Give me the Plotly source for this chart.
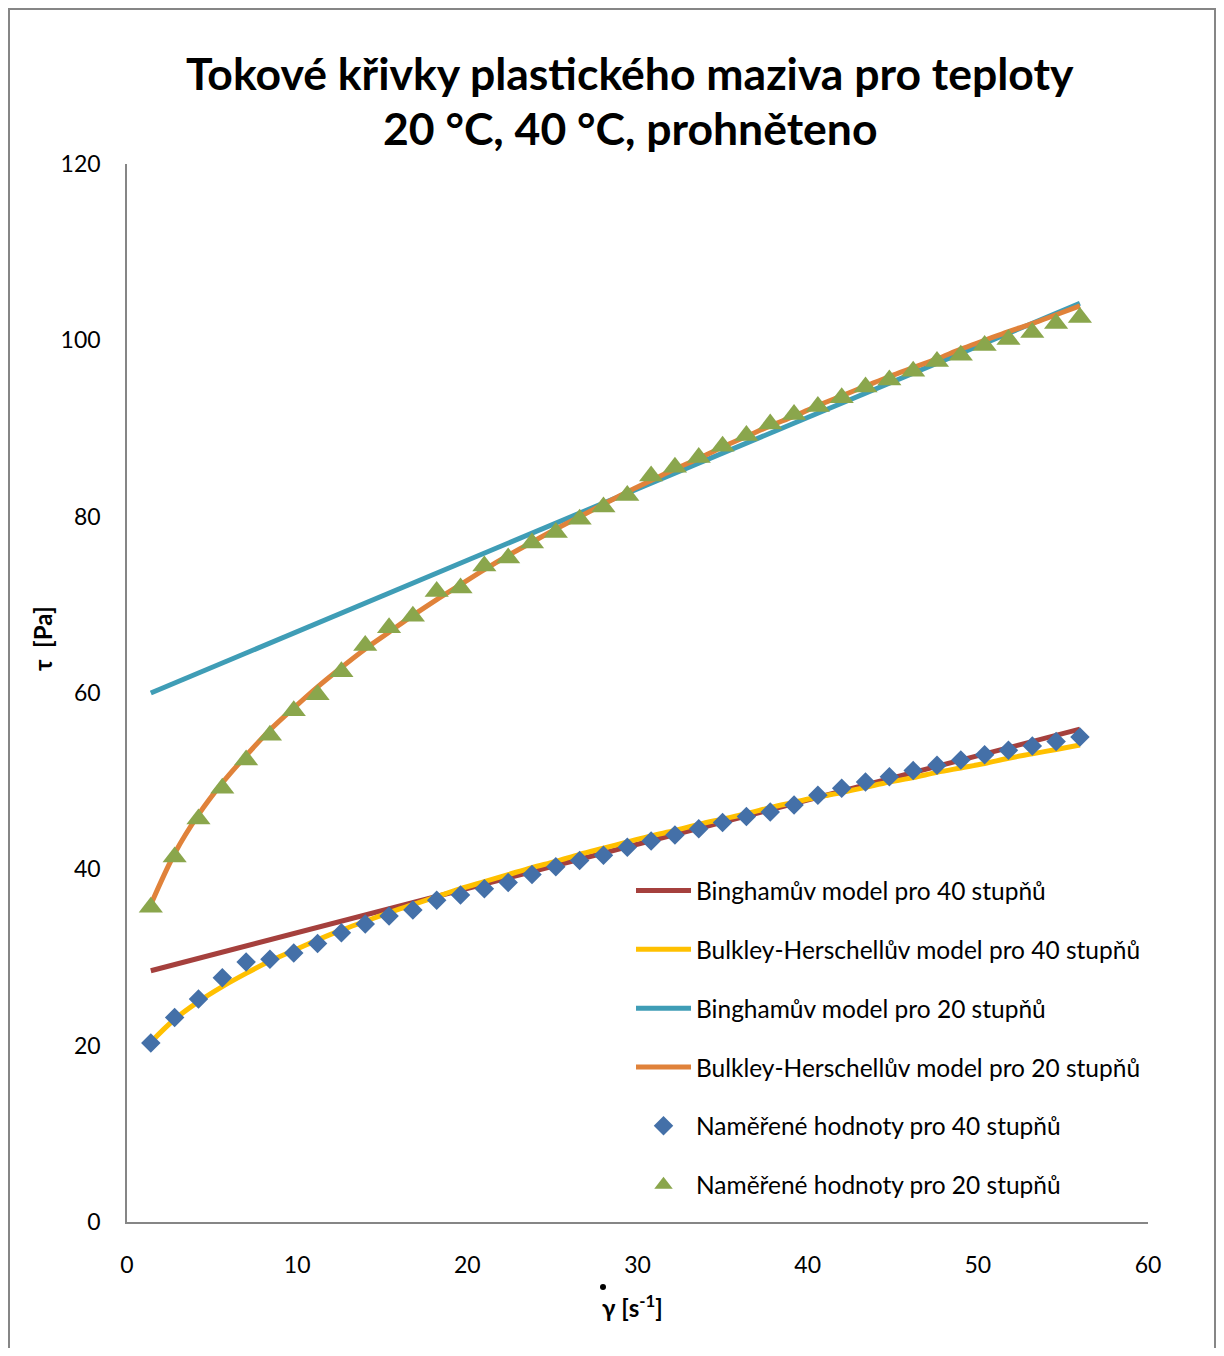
import plotly.graph_objects as go

# shear rate [1/s]
shear_rate = [1.4, 2.8, 4.2, 5.6, 7.0, 8.4, 9.8, 11.2, 12.6, 14.0,
              15.4, 16.8, 18.2, 19.6, 21.0, 22.4, 23.8, 25.2, 26.6, 28.0,
              29.4, 30.8, 32.2, 33.6, 35.0, 36.4, 37.8, 39.2, 40.6, 42.0,
              43.4, 44.8, 46.2, 47.6, 49.0, 50.4, 51.8, 53.2, 54.6, 56.0]

# measured shear stress [Pa]
measured_40 = [20.3, 23.2, 25.3, 27.7, 29.5, 29.8, 30.5, 31.6, 32.8, 33.8,
               34.7, 35.4, 36.5, 37.1, 37.8, 38.5, 39.4, 40.3, 41.0, 41.6,
               42.5, 43.2, 43.9, 44.6, 45.3, 46.0, 46.5, 47.3, 48.4, 49.2,
               49.9, 50.5, 51.2, 51.8, 52.4, 53.0, 53.5, 54.0, 54.5, 55.0]
measured_20 = [35.7, 41.4, 45.7, 49.2, 52.4, 55.2, 58.0, 59.8, 62.4, 65.4,
               67.4, 68.7, 71.5, 71.9, 74.4, 75.3, 77.0, 78.2, 79.7, 81.1,
               82.4, 84.6, 85.6, 86.7, 88.0, 89.2, 90.5, 91.6, 92.5, 93.5,
               94.7, 95.5, 96.5, 97.6, 98.3, 99.4, 100.1, 100.9, 101.9, 102.6]

# Herschel-Bulkley model curves
hb_40 = [20.4, 23.0, 25.0, 26.7, 28.2, 29.6, 30.8, 32.0, 33.1, 34.1,
         35.1, 36.0, 36.9, 37.8, 38.6, 39.4, 40.2, 40.9, 41.7, 42.4,
         43.1, 43.8, 44.4, 45.1, 45.7, 46.3, 47.0, 47.6, 48.2, 48.7,
         49.3, 49.9, 50.4, 51.0, 51.5, 52.0, 52.6, 53.1, 53.6, 54.1]
hb_20 = [36.0, 41.8, 46.2, 49.8, 52.9, 55.8, 58.3, 60.7, 62.9, 65.0,
         66.9, 68.8, 70.6, 72.3, 74.0, 75.6, 77.1, 78.6, 80.0, 81.4,
         82.8, 84.1, 85.4, 86.6, 87.9, 89.1, 90.3, 91.4, 92.6, 93.7,
         94.8, 95.9, 96.9, 97.9, 99.0, 100.0, 101.0, 101.9, 102.9, 103.9]

# Bingham model lines (end points)
bingham_x = [1.4, 56.0]
bingham_40 = [28.5, 55.9]
bingham_20 = [60.0, 104.2]

names = ["Binghamův model pro 40 stupňů",
         "Bulkley-Herschellův model pro 40 stupňů",
         "Binghamův model pro 20 stupňů",
         "Bulkley-Herschellův model pro 20 stupňů",
         "Naměřené hodnoty pro 40 stupňů",
         "Naměřené hodnoty pro 20 stupňů"]

FONT = "Lato"
OFF = 8  # page body margin
W, H = 1208, 1340
L, R, T, B = 119, 68, 156, 126
PW, PH = W - L - R, H - T - B


def px(xp):
    return (xp - OFF - L) / PW


def py(yp):
    return (H - B - (yp - OFF)) / PH


fig = go.Figure()
fig.add_trace(go.Scatter(x=bingham_x, y=bingham_40, mode="lines", name=names[0],
                         line=dict(color="#A5403D", width=5), legendgroup="a"))
fig.add_trace(go.Scatter(x=shear_rate, y=hb_40, mode="lines", name=names[1],
                         line=dict(color="#FFC000", width=5, shape="spline"), legendgroup="b"))
fig.add_trace(go.Scatter(x=bingham_x, y=bingham_20, mode="lines", name=names[2],
                         line=dict(color="#3F9DB6", width=5), legendgroup="c"))
fig.add_trace(go.Scatter(x=shear_rate, y=hb_20, mode="lines", name=names[3],
                         line=dict(color="#E0823A", width=5, shape="spline"), legendgroup="d"))
fig.add_trace(go.Scatter(x=shear_rate, y=measured_40, mode="markers", name=names[4],
                         marker=dict(symbol="diamond", size=15, color="#4470A8"), legendgroup="e"))
fig.add_trace(go.Scatter(x=shear_rate, y=measured_20, mode="markers", name=names[5],
                         marker=dict(symbol="triangle-up", size=21, color="#8AA64C"), legendgroup="f"))

axis_common = dict(showgrid=False, zeroline=False, showline=True, linecolor="#868686",
                   linewidth=1.5, ticks="", tickfont=dict(family=FONT, size=23, color="#000"))

fig.update_layout(
    width=W, height=H,
    margin=dict(l=L, r=R, t=T, b=B),
    paper_bgcolor="white", plot_bgcolor="white",
    font=dict(family=FONT, color="#000"),
    xaxis=dict(range=[0, 60], dtick=10, tick0=0, ticklabelstandoff=22, **axis_common),
    yaxis=dict(range=[0, 120], dtick=20, tick0=0, ticklabelstandoff=20, **axis_common),
    legend=dict(x=px(631), xanchor="left", y=py(868), yanchor="top",
                font=dict(family=FONT, size=24.5), tracegroupgap=24,
                itemwidth=55, bgcolor="rgba(0,0,0,0)"),
    showlegend=True,
)

# title (two lines)
fig.add_annotation(text="<b>Tokové křivky plastického maziva pro teploty</b>",
                   xref="paper", yref="paper", x=px(630), y=py(72), showarrow=False,
                   font=dict(family=FONT, size=44.5), xanchor="center", yanchor="middle")
fig.add_annotation(text="<b>20 °C, 40 °C, prohněteno</b>",
                   xref="paper", yref="paper", x=px(630), y=py(128), showarrow=False,
                   font=dict(family=FONT, size=44.5), xanchor="center", yanchor="middle")
# axis titles
fig.add_annotation(text="<b>γ [s<sup>-1</sup>]</b>", xref="paper", yref="paper",
                   x=px(632), y=py(1306), showarrow=False,
                   font=dict(family=FONT, size=24), xanchor="center", yanchor="middle")
# dot above gamma (shear-rate symbol)
fig.add_shape(type="circle", xref="paper", yref="paper",
              x0=px(600), x1=px(606), y0=py(1290), y1=py(1284),
              fillcolor="#000", line=dict(color="#000", width=0))
fig.add_annotation(text="<b>τ  [Pa]</b>", xref="paper", yref="paper",
                   x=px(42), y=py(639), showarrow=False, textangle=-90,
                   font=dict(family=FONT, size=24), xanchor="center", yanchor="middle")

# chart border
fig.add_shape(type="rect", xref="paper", yref="paper", x0=px(9), x1=px(1215),
              y0=py(1380), y1=py(9), line=dict(color="#868686", width=2), layer="below")

fig.write_html("out.html")
